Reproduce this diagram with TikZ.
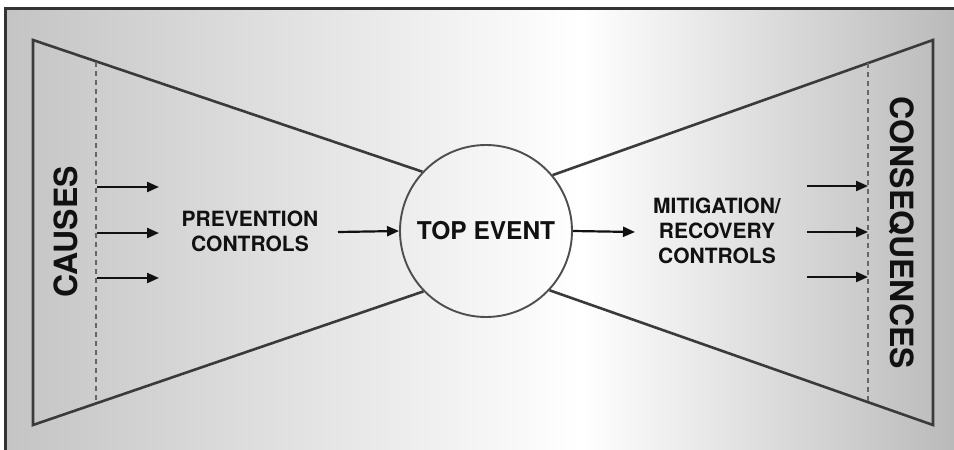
\documentclass[tikz,border=0pt]{standalone}
\usepackage{fontspec}
\setmainfont{TeX Gyre Heros}
\usetikzlibrary{arrows.meta,calc}
\definecolor{edge}{HTML}{3A3A3A}
\definecolor{ink}{HTML}{111111}
\definecolor{sidegray}{HTML}{C4C4C4}
\begin{document}
\begin{tikzpicture}[x=1pt,y=-1pt,
  outline/.style={draw=edge,line width=2.6pt,line join=miter},
  divider/.style={draw=gray!80!black,line width=1.3pt,dash pattern=on 5pt off 4pt},
  flow/.style={draw=ink,line width=2.2pt,-{Triangle[length=12pt,width=10pt]}},
  lbl/.style={font=\bfseries\fontsize{21}{25}\selectfont,text=ink,align=center,inner sep=0pt},
  sidelbl/.style={font=\bfseries\fontsize{32}{36}\selectfont,text=ink,inner sep=0pt}]
  \useasboundingbox (0,0) rectangle (954,450);
  % background panel with light centre
  \fill[white] (0,0) rectangle (954,450);
  \shade[left color=sidegray,right color=white] (5,8) rectangle (580,450);
  \shade[left color=white,right color=sidegray!95!black] (580,8) rectangle (954,450);
  \draw[line width=3pt,draw=black!80] (5,450) -- (5,8) -- (954,8);

  % central event
  \node[circle,draw=edge!90,line width=1.9pt,minimum size=172pt,inner sep=0pt,
        font=\bfseries\fontsize{24.5}{28}\selectfont,text=ink] (top) at (486,231) {TOP EVENT};

  % corners of the two wedges
  \coordinate (L1) at (33,40);
  \coordinate (L2) at (33,425);
  \coordinate (R1) at (933,40);
  \coordinate (R2) at (933,425);
  \draw[outline] (top.137) -- (L1) -- (L2) -- (top.224);
  \draw[outline] (top.40) -- (R1) -- (R2) -- (top.-43);

  % dashed dividers
  \coordinate (dl1) at (96,62);
  \coordinate (dl2) at (96,403);
  \coordinate (dr1) at (868,63);
  \coordinate (dr2) at (868,402);
  \draw[divider] (dl1) -- (dl2);
  \draw[divider] (dr1) -- (dr2);

  % labels
  \node[sidelbl,rotate=90] (causes) at (66,232) {CAUSES};
  \node[sidelbl,rotate=-90] (cons) at (902,233) {CONSEQUENCES};
  \node[lbl] (prev) at (250,231) {PREVENTION\\CONTROLS};
  \node[lbl] (mitig) at (717,231) {MITIGATION/\\RECOVERY\\CONTROLS};

  % cause arrows
  \foreach \y [count=\i] in {187,233,278}{
    \coordinate (ca\i) at (97,\y);
    \coordinate (cb\i) at (159,\y);
    \draw[flow] (ca\i) -- (cb\i);
  }
  % consequence arrows
  \foreach \y [count=\i] in {186,232,277}{
    \coordinate (qa\i) at (807,\y);
    \coordinate (qb\i) at (868,\y);
    \draw[flow] (qa\i) -- (qb\i);
  }
  % arrows through the centre
  \coordinate (pa) at (338,232);
  \draw[flow] (pa) -- (top.west);
  \coordinate (ma) at (635,232);
  \draw[flow] (top.east) -- (ma);
\end{tikzpicture}
\end{document}
